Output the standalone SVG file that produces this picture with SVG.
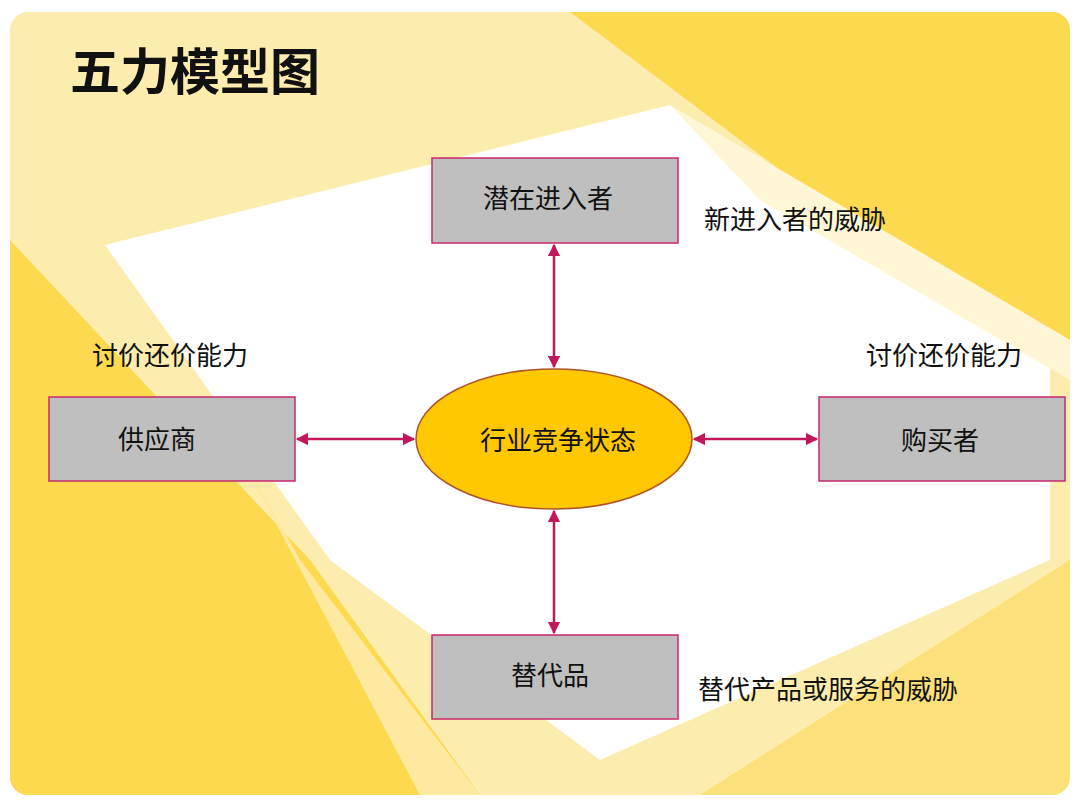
<svg xmlns="http://www.w3.org/2000/svg" width="1080" height="810" viewBox="0 0 1080 810">
<defs>
<style>
.box{fill:#BFBFBF;stroke:#C8286E;stroke-width:1.5}
.t{font-family:"Noto Sans CJK SC",sans-serif;font-size:26px;fill:#111;text-anchor:middle}
.l{font-family:"Noto Sans CJK SC",sans-serif;font-size:26px;fill:#111}
.c{stroke:#C2185B;stroke-width:2.5;fill:none;marker-start:url(#a);marker-end:url(#a)}
</style>
<marker id="a" viewBox="0 0 10 10" refX="9" refY="5" markerWidth="5" markerHeight="5" orient="auto-start-reverse"><path d="M0,0L10,5L0,10z" fill="#C2185B"/></marker>
<clipPath id="cp"><rect x="10" y="12" width="1060" height="783" rx="18"/></clipPath>
</defs>
<rect width="1080" height="810" fill="#fff"/>
<g clip-path="url(#cp)">
<rect x="10" y="12" width="1060" height="783" fill="#FCEDAE"/>
<polygon points="570,12 1070,12 1070,340 780,170" fill="#FCD94E"/>
<polygon points="10,240 310,560 480,795 10,795" fill="#FCD94E"/>
<polygon points="1070,560 700,795 1070,795" fill="#FCE07A"/>
<polygon points="105,245 670,105 1050,360 1050,560 600,760 330,560" fill="#FFFFFF"/>
<polygon points="670,105 1070,340 1070,380 760,200" fill="#FEF6D4"/>
<polygon points="200,380 420,795 480,795 300,560" fill="#FDEAA0"/>
</g>
<text x="70" y="90" font-family="Noto Sans CJK SC,sans-serif" font-size="50" font-weight="bold" fill="#111">五力模型图</text>
<g id="connectors">
<line class="c" x1="554" y1="245" x2="554" y2="367"/>
<line class="c" x1="554" y1="511" x2="554" y2="633"/>
<line class="c" x1="297" y1="439" x2="414" y2="439"/>
<line class="c" x1="694" y1="439" x2="817" y2="439"/>
</g>
<g id="entrants"><rect class="box" x="432" y="158" width="246" height="85"/><text class="t" x="548" y="208">潜在进入者</text></g>
<g id="suppliers"><rect class="box" x="49" y="397" width="246" height="84"/><text class="t" x="157" y="449">供应商</text></g>
<g id="buyers"><rect class="box" x="819" y="397" width="246" height="84"/><text class="t" x="940" y="450">购买者</text></g>
<g id="substitutes"><rect class="box" x="432" y="635" width="246" height="84"/><text class="t" x="550" y="685">替代品</text></g>
<g id="industry"><ellipse cx="554" cy="439" rx="138" ry="70" fill="#FFC800" stroke="#B0542A" stroke-width="1.5"/><text class="t" x="558" y="450">行业竞争状态</text></g>
<text class="l" x="704" y="229">新进入者的威胁</text>
<text class="l" x="92" y="365">讨价还价能力</text>
<text class="l" x="866" y="365">讨价还价能力</text>
<text class="l" x="698" y="699">替代产品或服务的威胁</text>
</svg>
